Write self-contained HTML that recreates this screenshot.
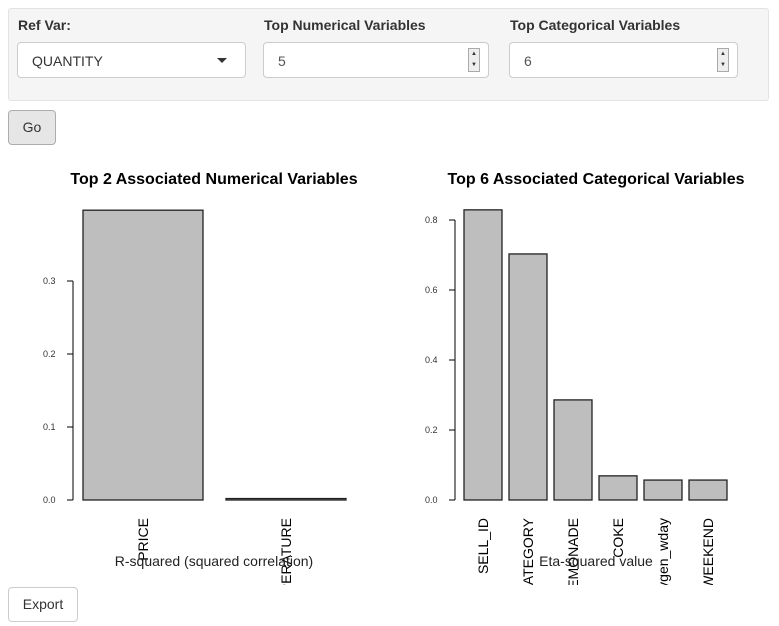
<!DOCTYPE html>
<html style="overflow:hidden;height:626px"><head><meta charset="utf-8"><style>
body{margin:0;width:779px;height:626px;background:#fff;font-family:"Liberation Sans",Arial,sans-serif;position:relative;overflow:hidden;color:#333}
.panel{position:absolute;left:8px;top:8px;width:761px;height:93px;background:#f5f5f5;border:1px solid #e3e3e3;border-radius:3px;box-sizing:border-box}
.lbl{position:absolute;top:17px;font-weight:bold;font-size:14px;color:#333}
.inp{position:absolute;top:42px;height:36px;background:#fff;border:1px solid #ccc;border-radius:4px;box-sizing:border-box;font-size:14px;padding:10px 0 0 14px;color:#555}
.spin{position:absolute;right:8px;top:5px;width:12px;height:24px;border:1px solid #aaa;background:#eee;box-sizing:border-box;font-size:6px;line-height:11px;text-align:center;color:#333}
.btn{position:absolute;background:#fff;border:1px solid #ccc;border-radius:4px;box-sizing:border-box;font-size:14px;color:#333;text-align:center;line-height:33px}
svg{position:absolute;left:0;top:0;display:block}
</style></head><body>
<div class="panel"></div>
<div class="lbl" style="left:18px">Ref Var:</div>
<div class="lbl" style="left:264px">Top Numerical Variables</div>
<div class="lbl" style="left:510px">Top Categorical Variables</div>
<div class="inp" style="left:17px;width:229px;color:#333">QUANTITY<span style="position:absolute;right:18px;top:15px;border-left:5px solid transparent;border-right:5px solid transparent;border-top:5px solid #333"></span></div>
<div class="inp" style="left:263px;width:226px">5<div class="spin">▲<br>▼</div></div>
<div class="inp" style="left:509px;width:229px">6<div class="spin">▲<br>▼</div></div>
<div class="btn" style="left:8px;top:110px;width:48px;height:35px;background:#e6e6e6;border-color:#adadad">Go</div>
<div class="btn" style="left:8px;top:587px;width:70px;height:35px">Export</div>
<svg width="779" height="626" id="charts">
<defs><clipPath id="lc"><rect x="0" y="505" width="779" height="80"/></clipPath></defs>
<g id="labels" clip-path="url(#lc)"></g>
</svg>
<script>
const numCats=["PRICE","AVERAGE_TEMPERATURE"];
const numVals=[0.397,0.002];
const numTicks=[0,0.1,0.2,0.3];
const catCats=["SELL_ID","SELL_CATEGORY","LEMONADE","COKE","holidaygen_wday","IS_WEEKEND"];
const catVals=[0.829,0.703,0.286,0.069,0.057,0.057];
const catTicks=[0,0.2,0.4,0.6,0.8];
const NS="http://www.w3.org/2000/svg";
const svg=document.getElementById('charts');
const lg=document.getElementById('labels');
function mk(t,a,txt,p){const e=document.createElementNS(NS,t);for(const k in a)e.setAttribute(k,a[k]);if(txt!=null)e.textContent=txt;(p||svg).appendChild(e);return e;}
function chart(o){
  const y=v=>o.y0-v*o.ppu;
  const t=mk('text',{x:o.tx,y:184,'font-size':16,'font-weight':'bold','text-anchor':'middle',fill:'#000'},o.title);
  
  
  const ax=mk('line',{x1:o.ax,x2:o.ax,y1:y(o.ticks[0]),y2:y(o.ticks[o.ticks.length-1]),stroke:'#000'});
  
  
  o.ticks.forEach(v=>{
    mk('line',{x1:o.ax-6,x2:o.ax,y1:y(v),y2:y(v),stroke:'#000'});
    const l=mk('text',{x:o.ax-30,y:y(v)+3,'font-size':9,fill:'#333'},v.toFixed(1));
    
    
  });
  o.cats.forEach((c,i)=>{
    const x0=o.bx+i*o.step, v=o.vals[i];
    const r=mk('rect',{x:x0,y:y(v),width:o.bw,height:Math.max(o.y0-y(v),1),fill:'#bebebe',stroke:'#222','stroke-width':1.3});
    
    
    const cx=x0+o.bw/2+5;
    const l=mk('text',{x:0,y:0,'font-size':14,'text-anchor':'end',fill:'#000',transform:`translate(${cx},518) rotate(-90)`},c,lg);
    
    
  });
  const xt=mk('text',{x:o.xtx,y:566,'font-size':14,'text-anchor':'middle',fill:'#222'},o.xtitle);
  
  
}
chart({key:'numerical',title:'Top 2 Associated Numerical Variables',tx:214,ax:73,y0:500,ppu:730,ticks:numTicks,cats:numCats,vals:numVals,bx:83,bw:120,step:143,xtitle:'R-squared (squared correlation)',xtx:214});
chart({key:'categorical',title:'Top 6 Associated Categorical Variables',tx:596,ax:455,y0:500,ppu:350,ticks:catTicks,cats:catCats,vals:catVals,bx:464,bw:38,step:45,xtitle:'Eta-squared value',xtx:596});
</script>
</body></html>
